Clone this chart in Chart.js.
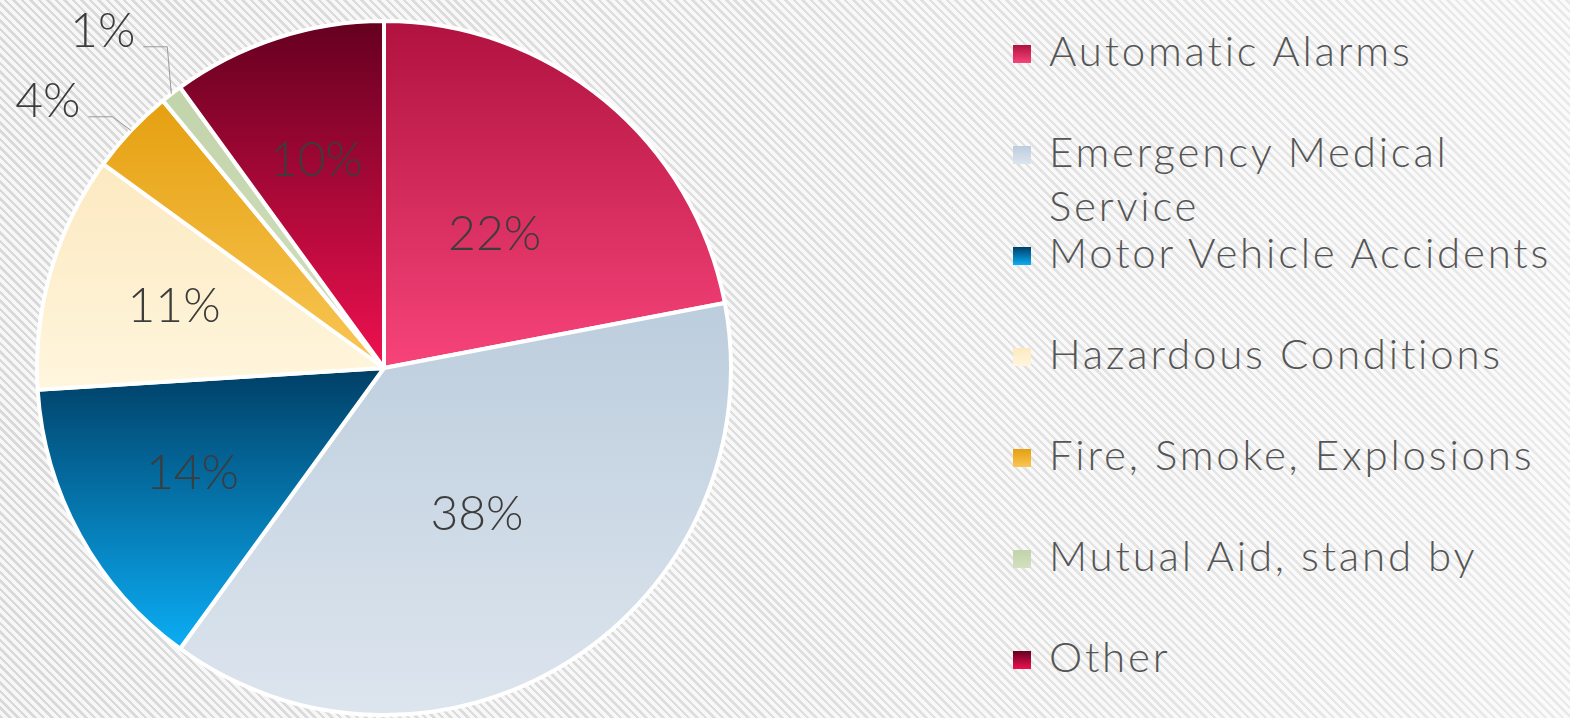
<!DOCTYPE html>
<html>
<head>
<meta charset="utf-8">
<script src="https://cdn.jsdelivr.net/npm/chart.js@4"></script>
<style>
  html, body {
    margin: 0;
    padding: 0;
    width: 1570px;
    height: 718px;
    overflow: hidden;
  }
  body {
    position: relative;
    background:
      linear-gradient(to right, rgba(255,255,255,0) 0%, rgba(255,255,255,0.15) 50%, rgba(255,255,255,0.45) 100%),
      repeating-linear-gradient(45deg, #d9d9d9 0px, #d9d9d9 2.5px, #f7f7f7 2.5px, #f7f7f7 6px);
    font-family: Lato, "Open Sans", sans-serif;
  }
  #pie {
    position: absolute;
    left: 0;
    top: 0;
  }
  #legend {
    position: absolute;
    left: 0;
    top: 0;
  }
  .item {
    position: absolute;
    left: 1013px;
    width: 557px;
    font-size: 42px;
    font-weight: 300;
    letter-spacing: 2.8px;
    line-height: 54px;
    color: #555;
  }
  .item .box {
    position: absolute;
    left: 0;
    width: 18px;
    height: 18px;
  }
  .item .txt {
    display: block;
    margin-left: 36px;
    max-width: 520px;
  }
</style>
</head>
<body>
<canvas id="pie" width="768" height="718"></canvas>
<div id="legend"></div>
<script>
const labels = [
  "Automatic Alarms",
  "Emergency Medical Service",
  "Motor Vehicle Accidents",
  "Hazardous Conditions",
  "Fire, Smoke, Explosions",
  "Mutual Aid, stand by",
  "Other"
];
const shares = [22, 38, 14, 11, 4, 1, 10];

// each slice is shaded top -> bottom
const topColors = ["#b0123f", "#bccddd", "#003f66", "#fce9c0", "#e5a010", "#c2d4aa", "#650020"];
const bottomColors = ["#f7447a", "#dde5ee", "#0badf5", "#fff6de", "#f9c654", "#d2e0c0", "#ef1150"];

const RADIUS = 347;
const total = shares.reduce((a, b) => a + b, 0);

function sliceAngles(i) {
  let before = 0;
  for (let k = 0; k < i; k++) before += shares[k];
  const a0 = before / total * Math.PI * 2 - Math.PI / 2;
  const a1 = (before + shares[i]) / total * Math.PI * 2 - Math.PI / 2;
  return [a0, a1];
}

function sliceGradient(context) {
  const chart = context.chart;
  const i = context.dataIndex;
  const area = chart.chartArea;
  if (!area) return topColors[i];
  const cy = (area.top + area.bottom) / 2;
  const [a0, a1] = sliceAngles(i);
  let minY = cy, maxY = cy;
  for (let s = 0; s <= 60; s++) {
    const a = a0 + (a1 - a0) * s / 60;
    const y = cy + Math.sin(a) * RADIUS;
    minY = Math.min(minY, y);
    maxY = Math.max(maxY, y);
  }
  const g = chart.ctx.createLinearGradient(0, minY, 0, maxY);
  g.addColorStop(0, topColors[i]);
  g.addColorStop(1, bottomColors[i]);
  return g;
}

// percentage labels, small slices get an outside label with a leader line
const percentLabels = {
  id: "percentLabels",
  afterDatasetsDraw(chart) {
    const ctx = chart.ctx;
    const arcs = chart.getDatasetMeta(0).data;
    ctx.save();
    ctx.font = "300 48px Lato, 'Open Sans', sans-serif";
    ctx.fillStyle = "#3c3c3c";
    ctx.textBaseline = "middle";
    let lastOutsideY = null;
    arcs.forEach((arc, i) => {
      const p = arc.getProps(["x", "y", "startAngle", "endAngle", "outerRadius"], true);
      const mid = (p.startAngle + p.endAngle) / 2;
      const pct = Math.round(shares[i] / total * 100);
      const text = pct + "%";
      if (pct >= 5) {
        const rr = p.outerRadius * (pct > 20 ? 0.5 : 0.63);
        ctx.textAlign = "center";
        ctx.fillText(text, p.x + Math.cos(mid) * rr, p.y + Math.sin(mid) * rr);
      } else {
        const ex = p.x + Math.cos(mid) * p.outerRadius;
        const ey = p.y + Math.sin(mid) * p.outerRadius;
        let bx = p.x + Math.cos(mid) * (p.outerRadius + 20) - 4;
        let by = p.y + Math.sin(mid) * (p.outerRadius + 20);
        // keep clear of the previous outside label
        if (lastOutsideY !== null && by > lastOutsideY - 70) {
          by = lastOutsideY - 70;
          bx = ex - 4;
        }
        lastOutsideY = by;
        ctx.strokeStyle = "#9a9a9a";
        ctx.lineWidth = 1;
        ctx.beginPath();
        ctx.moveTo(ex, ey);
        ctx.lineTo(bx, by);
        ctx.lineTo(bx - 24, by);
        ctx.stroke();
        ctx.textAlign = "right";
        ctx.fillText(text, bx - 32, by - 15);
      }
    });
    ctx.restore();
  }
};

new Chart(document.getElementById("pie"), {
  type: "pie",
  data: {
    labels: labels,
    datasets: [
      {
        data: shares,
        backgroundColor: sliceGradient,
        borderColor: "#ffffff",
        borderWidth: 4,
        radius: RADIUS
      }
    ]
  },
  options: {
    responsive: false,
    animation: false,
    layout: { padding: { top: 18 } },
    plugins: {
      legend: { display: false },
      tooltip: { enabled: false }
    }
  },
  plugins: [percentLabels]
});

// legend on the right
const legend = document.getElementById("legend");
labels.forEach((name, i) => {
  const item = document.createElement("div");
  item.className = "item";
  const baseline = 66 + 101 * i;
  item.style.top = (baseline - 43) + "px";
  const box = document.createElement("span");
  box.className = "box";
  box.style.top = "22px";
  box.style.background = "linear-gradient(" + topColors[i] + ", " + bottomColors[i] + ")";
  const txt = document.createElement("span");
  txt.className = "txt";
  txt.textContent = name;
  item.appendChild(box);
  item.appendChild(txt);
  legend.appendChild(item);
});
</script>
</body>
</html>
